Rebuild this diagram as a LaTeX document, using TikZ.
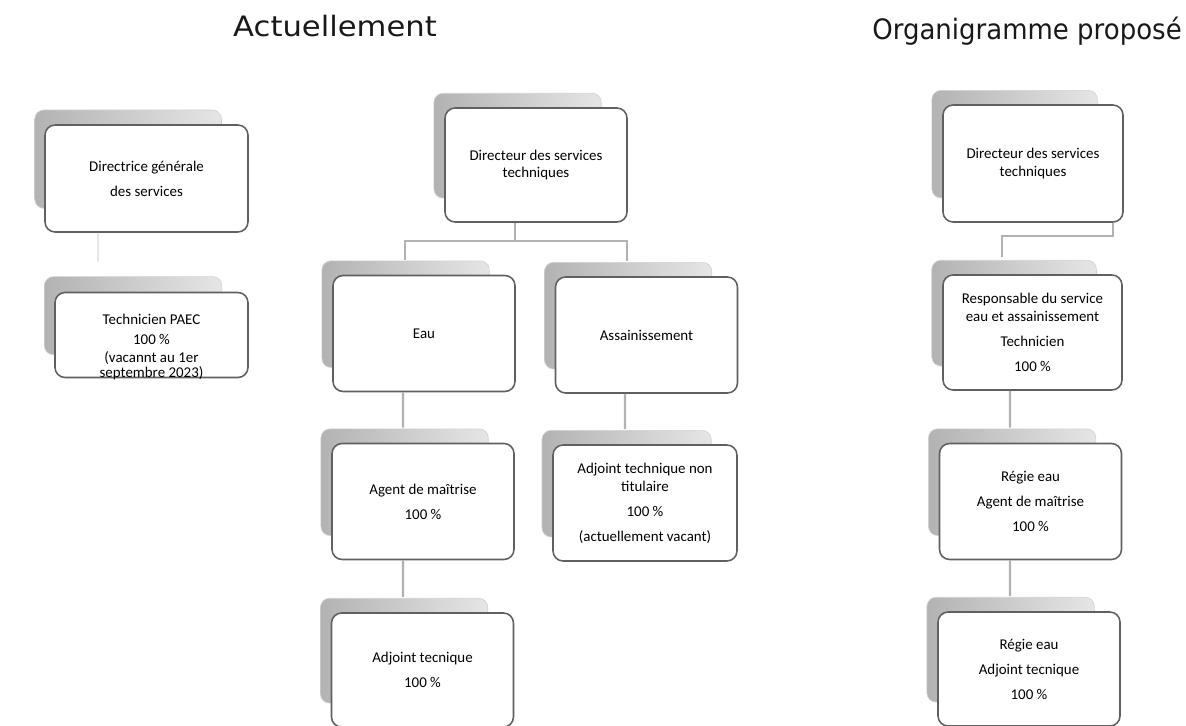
\documentclass[tikz,border=0pt]{standalone}
\usepackage{fontspec}
\setmainfont{Carlito}
\newfontfamily\titrefont{DejaVu Sans}
\usetikzlibrary{shadows}

\tikzset{
  poste/.style={draw=gray!75!black, line width=0.9pt, fill=white, rounded corners=0.2cm,
    align=center, inner sep=2pt, minimum width=3.64cm, minimum height=2.32cm,
    font=\fontsize{8.5}{10.2}\selectfont,
    general shadow={shadow xshift=-0.4cm, shadow yshift=0.42cm, shadow scale=0.92,
      left color=gray!60, right color=gray!20, draw=gray!35, line width=0.4pt}},
  lien/.style={draw=gray!60, line width=1.4pt},
  titre/.style={font=\titrefont\fontsize{16}{19}\selectfont, text=black!90, anchor=base}
}

\begin{document}
\begin{tikzpicture}[x=0.02cm, y=-0.02cm]
  \useasboundingbox (0,0) rectangle (1186,726);

  % Titres
  \node[titre] (titre1) at (335,37) {\scalebox{1.09}[1]{Actuellement}};
  \node[titre] (titre2) at (1027,40) {\scalebox{0.925}[1]{Organigramme proposé}};

  % Actuellement, direction
  \node[poste, minimum width=4.06cm, minimum height=2.14cm] (dgs) at (146.5,178.5) {Directrice générale\\[4pt]des services};
  \node[poste, minimum width=3.86cm, minimum height=1.7cm] (paec) at (151.5,335)
    {\raisebox{-0.31cm}[0pt][0pt]{\parbox{3.6cm}{\centering\fontsize{8.5}{8.8}\selectfont
      Technicien PAEC\\[2.6pt]100 \%\\[1.4pt](vacannt au 1er\\septembre 2023)}}};

  % Actuellement, services techniques
  \node[poste, minimum height=2.28cm] (dst1) at (536,165) {Directeur des services\\techniques};
  \node[poste] (eau) at (424,333.5) {Eau};
  \node[poste] (ass) at (646.5,335) {Assainissement};
  \node[poste] (agent1) at (423,501.5) {Agent de maîtrise\\[4pt]100 \%};
  \node[poste, minimum width=3.68cm] (adjnt) at (645,503) {Adjoint technique non\\titulaire\\[4pt]100 \%\\[4pt](actuellement vacant)};
  \node[poste, minimum height=2.28cm] (adjt1) at (422.5,670) {Adjoint tecnique\\[4pt]100 \%};

  % Organigramme propose
  \node[poste, minimum width=3.6cm, minimum height=2.34cm] (dst2) at (1033,163.5) {Directeur des services\\techniques};
  \node[poste, minimum width=3.58cm, minimum height=2.3cm] (resp) at (1032.5,332.5) {Responsable du service\\eau et assainissement\\[4pt]Technicien\\[4pt]100 \%};
  \node[poste] (regie1) at (1030.5,501.5) {Régie eau\\[4pt]Agent de maîtrise\\[4pt]100 \%};
  \node[poste, minimum height=2.28cm] (regie2) at (1029,669) {Régie eau\\[4pt]Adjoint tecnique\\[4pt]100 \%};

  % Liaisons
  \draw[lien, draw=gray!30, line width=0.6pt] ([xshift=-0.97cm]dgs.south) -- ([xshift=-1.07cm,yshift=0.6cm]paec.north);
  \draw[lien] ([xshift=-0.42cm]dst1.south) -- ++(0,-0.36cm) coordinate (j1);
  \draw[lien] (j1) -| ([xshift=-0.38cm,yshift=0.3cm]eau.north);
  \draw[lien] (j1) -| ([xshift=-0.39cm,yshift=0.3cm]ass.north);
  \draw[lien] ([xshift=-0.42cm]eau.south) -- ([xshift=-0.4cm,yshift=0.3cm]agent1.north);
  \draw[lien] ([xshift=-0.43cm]ass.south) -- ([xshift=-0.4cm,yshift=0.3cm]adjnt.north);
  \draw[lien] ([xshift=-0.4cm]agent1.south) -- ([xshift=-0.39cm,yshift=0.3cm]adjt1.north);
  \draw[lien] ([xshift=1.6cm]dst2.south) -- ++(0,-0.26cm) -| ([xshift=-0.61cm,yshift=0.34cm]resp.north);
  \draw[lien] ([xshift=-0.45cm]resp.south) -- ([xshift=-0.41cm,yshift=0.3cm]regie1.north);
  \draw[lien] ([xshift=-0.41cm]regie1.south) -- ([xshift=-0.38cm,yshift=0.3cm]regie2.north);
\end{tikzpicture}
\end{document}
